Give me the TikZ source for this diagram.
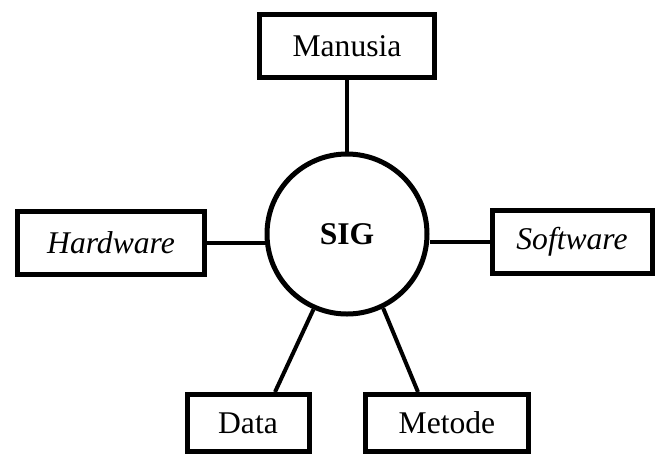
\documentclass[tikz,border=0pt]{standalone}
\usepackage{fontspec}
\setmainfont{Liberation Serif}
\usetikzlibrary{positioning}
\begin{document}
\begin{tikzpicture}[x=0.5pt, y=-0.5pt,
  comp/.style={draw, line width=2.5pt, minimum height=31.5pt, inner sep=0pt, font=\fontsize{15.8}{19}\selectfont},
  link/.style={line width=2pt}]
\useasboundingbox (0,0) rectangle (659,457);
\node[circle, draw, line width=2.5pt, minimum size=80pt, inner sep=0pt, font=\fontsize{15.8}{19}\selectfont\bfseries] (sig) at (347,234) {SIG};
\node[comp, minimum width=87.5pt] (man) at (347,46) {Manusia};
\node[comp, minimum width=93.5pt] (hw) at (111,243) {\itshape Hardware};
\node[comp, minimum width=80pt] (sw) at (572,242) {\itshape Software};
\node[comp, minimum width=61pt, minimum height=28.5pt] (data) at (248,423) {Data};
\node[comp, minimum width=81.5pt, minimum height=28.5pt] (met) at (447,423) {Metode};
% connectors
\draw[link] (man) -- (sig);
\draw[link] (hw.east) -- (hw.east -| sig.west);
\draw[link] (sw.west) -- (sw.west -| sig.east);
\draw[link] (sig.-114) -- ([xshift=13.5pt]data.north);
\draw[link] (sig.-64) -- ([xshift=-14.5pt]met.north);
\end{tikzpicture}
\end{document}
